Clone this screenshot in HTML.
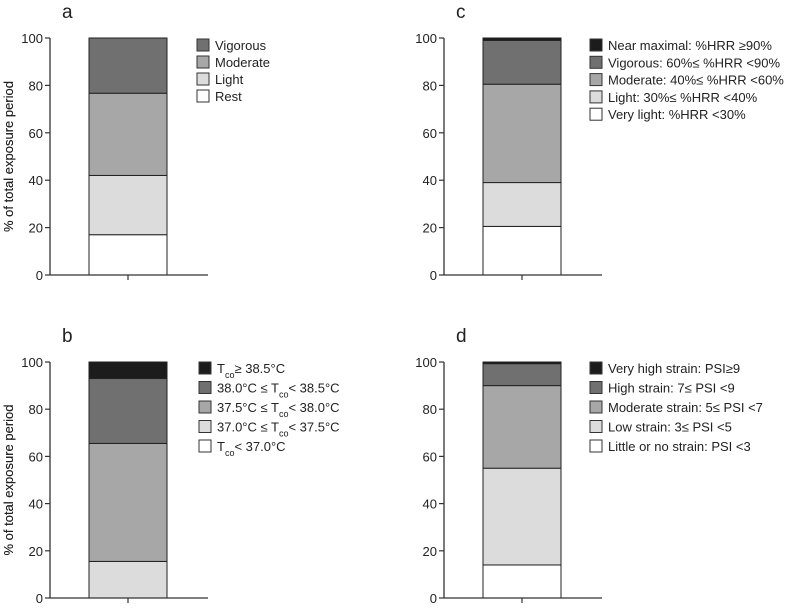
<!DOCTYPE html>
<html><head><meta charset="utf-8">
<style>
body{margin:0;background:#fff;}
svg text{font-family:"Liberation Sans",sans-serif;fill:#222;}
</style></head>
<body>
<svg id="chart" width="800" height="608" xmlns="http://www.w3.org/2000/svg"></svg>
<script>
// Panel a
const aLabels = ["Rest","Light","Moderate","Vigorous"];
const aValues = [17, 25, 34.7, 23.3];
// Panel b
const bLabels = ["T<tspan baseline-shift='sub' font-size='9'>co</tspan>&lt; 37.0°C","37.0°C ≤ T<tspan baseline-shift='sub' font-size='9'>co</tspan>&lt; 37.5°C","37.5°C ≤ T<tspan baseline-shift='sub' font-size='9'>co</tspan>&lt; 38.0°C","38.0°C ≤ T<tspan baseline-shift='sub' font-size='9'>co</tspan>&lt; 38.5°C","T<tspan baseline-shift='sub' font-size='9'>co</tspan>≥ 38.5°C"];
const bValues = [0, 15.5, 50, 27.5, 7];
// Panel c
const cLabels = ["Very light: %HRR &lt;30%","Light: 30%≤ %HRR &lt;40%","Moderate: 40%≤ %HRR &lt;60%","Vigorous: 60%≤ %HRR &lt;90%","Near maximal: %HRR ≥90%"];
const cValues = [20.5, 18.5, 41.5, 18.5, 1];
// Panel d
const dLabels = ["Little or no strain: PSI &lt;3","Low strain: 3≤ PSI &lt;5","Moderate strain: 5≤ PSI &lt;7","High strain: 7≤ PSI &lt;9","Very high strain: PSI≥9"];
const dValues = [14, 41, 35, 9.3, 0.7];
const yTicks = [0,20,40,60,80,100];

const fills4 = ["#ffffff","#dcdcdc","#a7a7a8","#707071"];
const fills5 = ["#ffffff","#dcdcdc","#a7a7a8","#707071","#1c1c1c"];
const svg = document.getElementById('chart');
function add(tag, attrs, parent){
  const el = document.createElementNS("http://www.w3.org/2000/svg", tag);
  for (const k in attrs) el.setAttribute(k, attrs[k]);
  (parent||svg).appendChild(el); return el;
}
function panel(id, ax, top, bot, barX, labels, values, fills, legX, legY, legStep){
  const g = add('g', {});
  
  
  const y = v => bot - (v/100)*(bot-top);
  const t = add('text', {x: ax+12, y: top-20, 'font-size': 19}, g);
  t.textContent = id;
  
  
  const yt = add('text', {transform:`translate(13,${(top+bot)/2}) rotate(-90)`, 'text-anchor':'middle', 'font-size':13}, g);
  yt.textContent = '% of total exposure period';
  
  
  // bars
  let cum = 0;
  values.forEach((v,i)=>{
    const r = add('rect', {x: barX, y: y(cum+v), width: 78, height: y(cum)-y(cum+v), fill: fills[i], stroke:'#222', 'stroke-width':1}, g);
    
    
    cum += v;
  });
  // axes
  add('line', {x1: ax, y1: top, x2: ax, y2: bot, stroke:'#333', 'stroke-width':1.3}, g);
  add('line', {x1: ax, y1: bot, x2: ax+158, y2: bot, stroke:'#333', 'stroke-width':1.3}, g);
  add('line', {x1: barX+39, y1: bot, x2: barX+39, y2: bot+5, stroke:'#333', 'stroke-width':1.2}, g);
  yTicks.forEach(tv=>{
    add('line', {x1: ax-5, y1: y(tv), x2: ax, y2: y(tv), stroke:'#333', 'stroke-width':1.2}, g);
    const tl = add('text', {x: ax-7, y: y(tv)+5, 'text-anchor':'end', 'font-size':13}, g);
    tl.textContent = tv;
    
    
  });
  // legend (top = last)
  const n = labels.length;
  for (let k=0;k<n;k++){
    const i = n-1-k;
    const cy = legY + k*legStep;
    const lg = add('g', {}, g);
    
    
    add('rect', {x: legX, y: cy-6, width: 12, height: 12, fill: fills[i], stroke:'#333', 'stroke-width':1}, lg);
    const lt = add('text', {x: legX+18, y: cy+5, 'font-size':13}, lg);
    lt.innerHTML = labels[i];
  }
}
panel('a', 50, 38, 275, 89, aLabels, aValues, fills4, 197, 45, 17);
panel('b', 50, 362, 598, 89, bLabels, bValues, fills5, 199, 368, 19.5);
panel('c', 444, 38, 275, 483, cLabels, cValues, fills5, 590, 45, 17.3);
panel('d', 444, 362, 598, 483, dLabels, dValues, fills5, 590, 368, 19.5);
</script>
</body></html>
